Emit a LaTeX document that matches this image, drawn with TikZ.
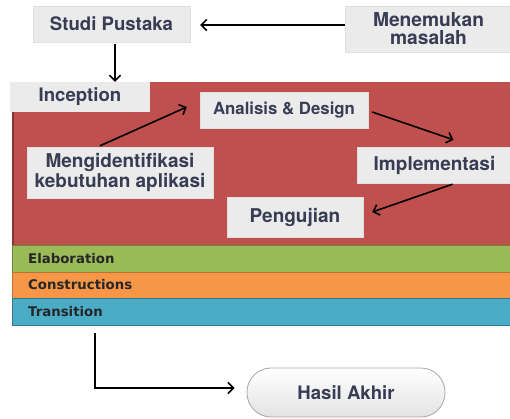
\documentclass[tikz,border=0pt]{standalone}
\usepackage{fontspec}
\setmainfont{TeX Gyre Heros}
\newfontfamily\bandfont{DejaVu Sans}
\usetikzlibrary{arrows.meta,shadings}
\definecolor{txt}{RGB}{56,60,84}
\definecolor{boxfill}{RGB}{235,235,235}
\definecolor{redband}{RGB}{192,80,77}
\definecolor{greenband}{RGB}{155,187,89}
\definecolor{orangeband}{RGB}{247,150,70}
\definecolor{blueband}{RGB}{75,172,198}
\tikzset{
  lbox/.style={rectangle, fill=boxfill, draw=gray!25, line width=0.4pt, inner sep=0pt,
    text=txt, font=\fontsize{18}{18}\selectfont\bfseries, align=center},
  band/.style={rectangle, inner sep=0pt, anchor=north west, line width=1pt},
  bandlabel/.style={anchor=west, inner sep=0pt, text=black!85, font=\bandfont\fontsize{13.3}{13}\selectfont\bfseries},
  arr/.style={draw=black, line width=1.6pt, -{Straight Barb[length=5.5pt,width=11pt,line width=1.6pt]}}
}
\begin{document}
\begin{tikzpicture}[x=1pt,y=-1pt]
\useasboundingbox (0,0) rectangle (510,418);
% phase bands
\fill[redband] (12,82) rectangle (512,245);
\draw[redband!70!black, line width=1.2pt] (13,112) -- (13,245);
\node[band, fill=greenband, draw=greenband!70!black, minimum width=500pt, minimum height=27pt] (elab) at (12,245) {};
\node[band, fill=orangeband, draw=orangeband!75!black, minimum width=500pt, minimum height=26pt] (cons) at (12,272) {};
\node[band, fill=blueband, draw=blueband!70!black, minimum width=500pt, minimum height=27pt] (trans) at (12,298) {};
\node[bandlabel] (elabl) at (28,259) {Elaboration};
\node[bandlabel] (consl) at (28,285) {Constructions};
\node[bandlabel] (transl) at (28,311.5) {Transition};
% boxes
\node[lbox, minimum width=157pt, minimum height=36pt, font=\fontsize{18.6}{18}\selectfont\bfseries] (studi) at (111.5,24) {Studi Pustaka};
\node[lbox, minimum width=167pt, minimum height=46pt, font=\fontsize{19.2}{18}\selectfont\bfseries] (menemukan) at (428.5,29) {Menemukan\\masalah};
\node[lbox, minimum width=140pt, minimum height=30pt, draw=none, font=\fontsize{18.6}{18}\selectfont\bfseries] (inception) at (80,97) {Inception};
\node[lbox, minimum width=168pt, minimum height=36pt, font=\fontsize{16.8}{16.8}\selectfont\bfseries] (analisis) at (284,110) {Analisis \& Design};
\node[lbox, minimum width=186pt, minimum height=51pt, font=\fontsize{19}{20}\selectfont\bfseries] (mengid) at (120,172.5) {Mengidentifikasi\\kebutuhan aplikasi};
\node[lbox, minimum width=155pt, minimum height=36pt, font=\fontsize{19}{18}\selectfont\bfseries] (impl) at (434.5,165) {Implementasi};
\node[lbox, minimum width=136pt, minimum height=40pt, font=\fontsize{19}{18}\selectfont\bfseries] (peng) at (295,217) {Pengujian};
\node[rectangle, rounded corners=24pt, draw=gray!70, line width=0.8pt, top color=white, bottom color=gray!22,
  minimum width=198pt, minimum height=49pt, text=txt, font=\fontsize{18.6}{18}\selectfont\bfseries] (hasil) at (346,392.5) {Hasil Akhir};
% connectors
\draw[arr] (menemukan.west |- 0,25) -- ([xshift=10pt]studi.east |- 0,25);
\draw[arr] ([yshift=-2pt]studi.south -| 115,0) -- (inception.north -| 115,0);
\draw[arr] ([xshift=-20pt,yshift=1pt]mengid.north) -- ([xshift=-13pt,yshift=3pt]analisis.west);
\draw[arr] ([xshift=4pt,yshift=-2pt]analisis.east) -- ([xshift=19pt,yshift=7pt]impl.north);
\draw[arr] ([xshift=18pt,yshift=-1pt]impl.south) -- ([xshift=9pt,yshift=5pt]peng.east);
\coordinate (tstart) at (95,333);
\draw[arr] (tstart) |- ([xshift=-12pt,yshift=4.5pt]hasil.west);
\end{tikzpicture}
\end{document}
